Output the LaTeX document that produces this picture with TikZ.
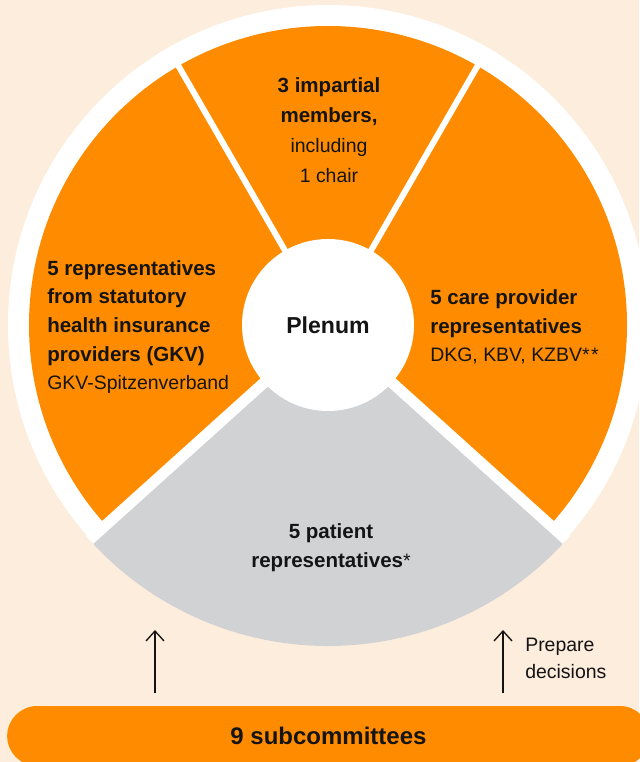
\documentclass[tikz,border=0pt]{standalone}
\usepackage{fontspec}
\setmainfont{Liberation Sans}
\usetikzlibrary{arrows.meta}
\definecolor{cream}{RGB}{253,237,220}
\definecolor{gbaorange}{RGB}{255,140,0}
\definecolor{gbagray}{RGB}{209,210,212}
\definecolor{inkblack}{RGB}{20,20,20}
\newcommand{\boldln}[1]{{\fontsize{15.4}{21.5}\selectfont\bfseries #1}}

\begin{document}
\begin{tikzpicture}[x=0.75pt,y=0.75pt,yscale=-1,xscale=1,
  sectortext/.style={font=\fontsize{14.6}{21.5}\selectfont, text=inkblack, inner sep=0pt},
  thindiv/.style={draw=white, line width=4.5pt},
  widediv/.style={draw=white, line width=8.25pt},
  upbarb/.style={-{Straight Barb[length=7.5pt,width=13.5pt]}, line width=1pt, draw=inkblack}]
\useasboundingbox (0,0) rectangle (639,762);

%Shape: Rectangle [background]
\fill[cream] (0,0) rectangle (639,762);

%Shape: Circle [outer ring]
\coordinate (ctr) at (328,325);
\fill[white] (ctr) circle [radius=320];
%Shape: Circle [orange sectors]
\fill[gbaorange] (ctr) circle [radius=299];
%Shape: Sector [patients]
\fill[gbagray] (ctr) -- +(-222:321) arc[start angle=-222, end angle=-318, radius=321] -- cycle;

%Straight Lines [dividers]
\draw[thindiv] (ctr) -- +(-60:306);
\draw[thindiv] (ctr) -- +(-120:306);
\draw[widediv] (ctr) -- +(-222:321);
\draw[widediv] (ctr) -- +(-318:321);

%Shape: Circle [plenum]
\node[circle, fill=white, minimum size=129pt, inner sep=0pt, font=\fontsize{17.3}{20}\selectfont\bfseries, text=inkblack] (plenum) at (ctr) {Plenum};

% Text Node
\node[sectortext, align=center, font=\fontsize{14.6}{22.5}\selectfont] (impartial) at (329,130) {\boldln{3 impartial}\\\boldln{members,}\\including\\1 chair};
% Text Node
\node[sectortext, anchor=west, align=left] (gkv) at (47,327) {\boldln{5 representatives}\\\boldln{from statutory}\\\boldln{health insurance}\\\boldln{providers (GKV)}\\GKV-Spitzenverband};
% Text Node
\node[sectortext, anchor=west, align=left] (care) at (430,327) {\boldln{5 care provider}\\\boldln{representatives}\\DKG, KBV, KZBV*\kern1pt*};
% Text Node
\node[sectortext, align=center] (patient) at (331,548) {\boldln{5 patient}\\\boldln{representatives}*};

%Shape: Rounded Rectangle [subcommittees]
\node[fill=gbaorange, rounded corners=22.5pt, minimum width=482pt, minimum height=45pt, inner sep=0pt, font=\fontsize{18}{20}\selectfont\bfseries, text=inkblack] (subcom) at (328.5,736) {9 subcommittees};

%Straight Lines [arrows]
\coordinate (footL) at (155,693);
\coordinate (tipL) at (155,630);
\coordinate (footR) at (503,693);
\coordinate (tipR) at (503,630);
\draw[upbarb] (footL) -- (tipL);
\draw[upbarb] (footR) -- (tipR);

% Text Node
\node[sectortext, anchor=west, align=left, font=\fontsize{14.6}{20.3}\selectfont] (prep) at (525,658) {Prepare\\decisions};

\end{tikzpicture}
\end{document}
